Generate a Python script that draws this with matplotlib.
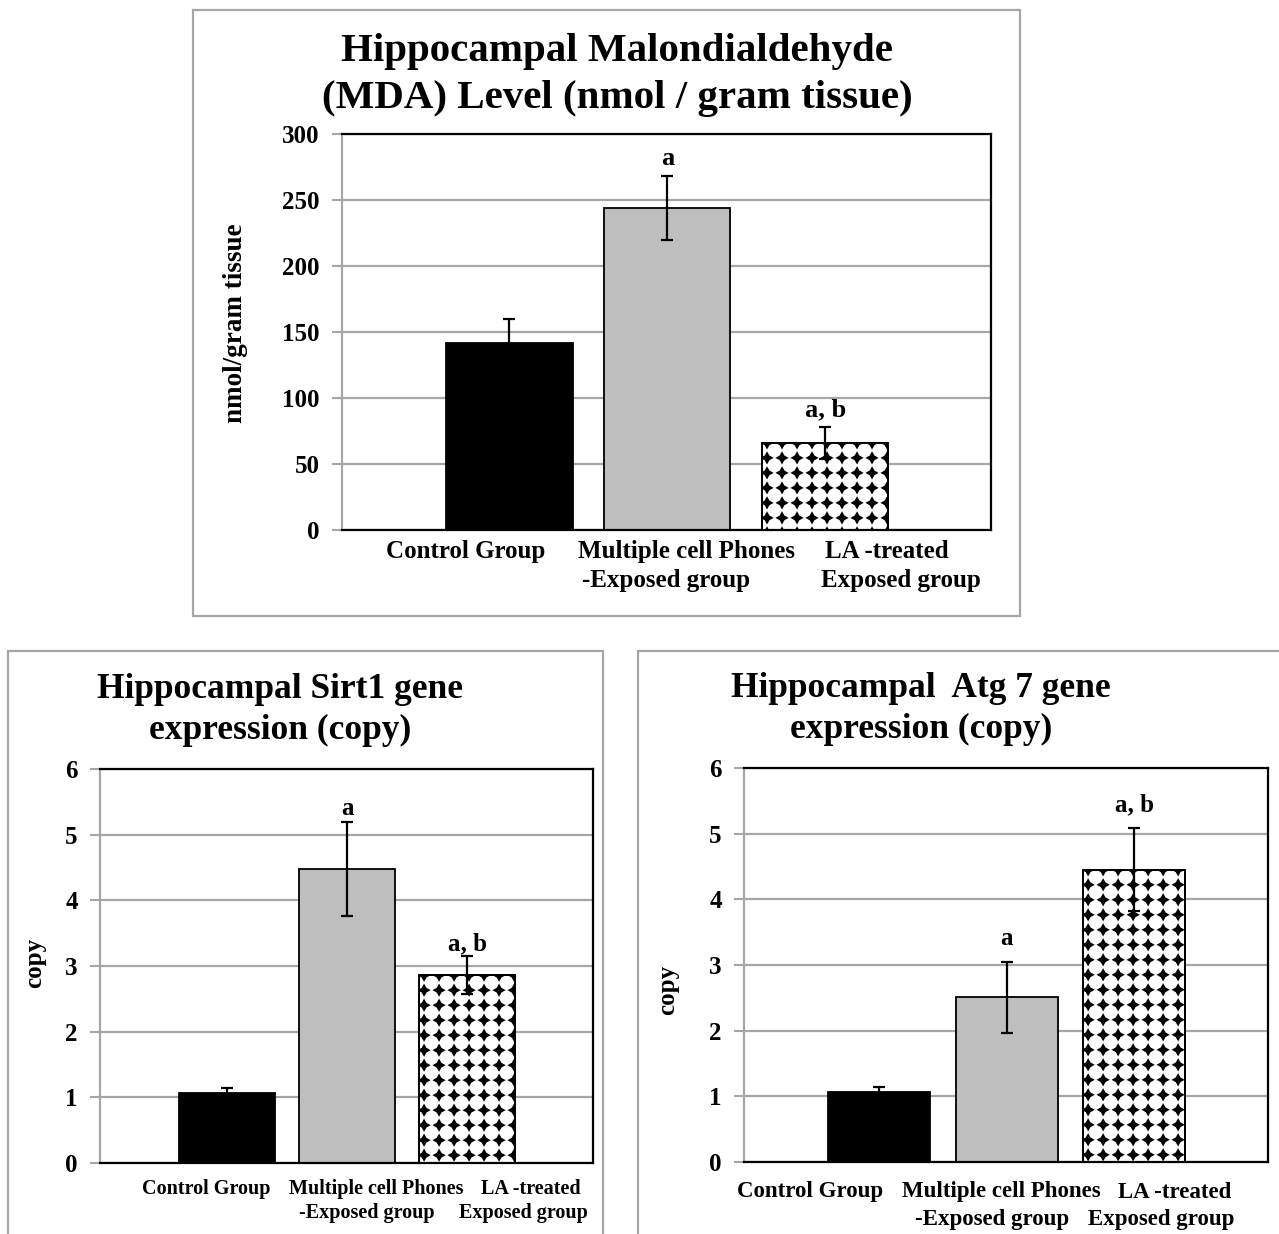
import numpy as np
import matplotlib
matplotlib.use("Agg")
import matplotlib.pyplot as plt
from matplotlib.patches import Rectangle
from matplotlib.path import Path

# ---- data -------------------------------------------------------------
group_lines = [["Control Group"],
               ["Multiple cell Phones", "-Exposed group"],
               ["LA -treated", "Exposed group"]]

mda_mean = [142, 244, 66]
mda_err = [18, 24, 12]
mda_sig = ["", "a", "a, b"]

sirt1_mean = [1.07, 4.48, 2.86]
sirt1_err = [0.07, 0.72, 0.29]
sirt1_sig = ["", "a", "a, b"]

atg7_mean = [1.06, 2.51, 4.45]
atg7_err = [0.08, 0.54, 0.63]
atg7_sig = ["", "a", "a, b"]

# ---- style ------------------------------------------------------------
plt.rcParams['font.family'] = ['Liberation Serif', 'DejaVu Serif']
plt.rcParams['font.weight'] = 'bold'

W, H = 1279, 1234
GRID = '#a6a6a6'
BAR_GRAY = '#bebebe'

# four-point star with slightly concave sides, used as the fill motif
_k = 0.36
STAR = Path([(1, 0), (_k, _k), (0, 1), (-_k, _k), (-1, 0), (-_k, -_k), (0, -1), (_k, -_k), (1, 0)],
            [Path.MOVETO] + [Path.LINETO] * 7 + [Path.CLOSEPOLY])

fig = plt.figure(figsize=(W / 100, H / 100), dpi=100)


def px_axes(left, top, right, bottom):
    return fig.add_axes([left / W, 1 - bottom / H, (right - left) / W, (bottom - top) / H])


def frame(left, top, right, bottom):
    fig.add_artist(Rectangle((left / W, 1 - bottom / H), (right - left) / W, (bottom - top) / H,
                             transform=fig.transFigure, fill=False, edgecolor=GRID,
                             lw=1.6, clip_on=False))


def fig_text(xpx, ypx, s, **kw):
    fig.text(xpx / W, 1 - ypx / H, s, ha='center', va='center', **kw)


def star_fill(ax, bar, step_px=15, star_px=13.2):
    """Cover a bar with a square grid of black four-point stars."""
    bb = bar.get_window_extent()
    xs = np.arange(bb.x0 + 5, bb.x1 + step_px, step_px)
    ys = np.arange(bb.y1, bb.y0 - step_px, -step_px)
    gx, gy = np.meshgrid(xs, ys)
    pts = ax.transData.inverted().transform(np.column_stack([gx.ravel(), gy.ravel()]))
    size_pt = star_px * 72 / fig.dpi
    sc = ax.scatter(pts[:, 0], pts[:, 1], s=size_pt ** 2, marker=STAR, c='black',
                    edgecolors='none', zorder=3)
    sc.set_clip_path(bar)


def draw_chart(ax, means, errs, sigs, ymax, ystep, tick_fs, sig_fs, sig_off):
    x = np.arange(len(means))
    ax.set_xlim(-1.06, 3.05)
    ax.set_ylim(0, ymax)
    ax.set_yticks(np.arange(0, ymax + ystep / 2, ystep))
    ax.set_xticks([])
    ax.yaxis.grid(True, color=GRID, lw=1.6)
    ax.set_axisbelow(True)
    for side in ['top', 'right', 'bottom']:
        ax.spines[side].set(color='black', lw=1.6)
    ax.spines['left'].set(color=GRID, lw=1.6)
    ax.tick_params(axis='y', length=7, width=1.5, color=GRID, pad=9, labelsize=tick_fs)

    bars = ax.bar(x, means, width=0.8, color=['black', BAR_GRAY, 'white'],
                  edgecolor='black', lw=1.3, zorder=2)
    star_fill(ax, bars[2])
    ax.bar(x[2], means[2], width=0.8, fill=False, edgecolor='black', lw=1.3, zorder=4)
    ax.errorbar(x, means, yerr=errs, fmt='none', ecolor='black', elinewidth=1.6,
                capsize=4.5, capthick=1.6, zorder=5)
    for xi, m, e, s in zip(x, means, errs, sigs):
        if s:
            ax.annotate(s, (xi, m + e), xytext=(0, sig_off), textcoords='offset points',
                        ha='center', va='baseline', fontsize=sig_fs, fontweight='bold')


# ---- top panel: MDA ---------------------------------------------------
frame(193, 10, 1020, 616)
ax1 = px_axes(342, 134, 991, 530)
draw_chart(ax1, mda_mean, mda_err, mda_sig, 300, 50, 18, 19, 8)
fig_text(617, 75, "Hippocampal Malondialdehyde\n(MDA) Level (nmol / gram tissue)",
         fontsize=29.5, fontweight='bold', linespacing=1.38)
fig_text(236, 323, "nmol/gram tissue", fontsize=19.5, rotation=90, fontweight='bold')
top_pos = [[(466, 551)], [(686, 551), (666, 580)], [(887, 551), (901, 580)]]
for lines, pos in zip(group_lines, top_pos):
    for s, (px, py) in zip(lines, pos):
        fig_text(px, py, s, fontsize=18, fontweight='bold')

# ---- bottom left: Sirt1 -----------------------------------------------
frame(8, 651, 603, 1260)
ax2 = px_axes(100, 769, 593, 1163)
draw_chart(ax2, sirt1_mean, sirt1_err, sirt1_sig, 6, 1, 18, 18, 4.5)
fig_text(280, 710, "Hippocampal Sirt1 gene\nexpression (copy)",
         fontsize=25.5, fontweight='bold', linespacing=1.35)
fig_text(35, 963, "copy", fontsize=18, rotation=90, fontweight='bold')
bl_pos = [[(206, 1189)], [(376, 1189), (367, 1213)], [(531, 1189), (523, 1213)]]
for lines, pos in zip(group_lines, bl_pos):
    for s, (px, py) in zip(lines, pos):
        fig_text(px, py, s, fontsize=14.5, fontweight='bold')

# ---- bottom right: Atg 7 ----------------------------------------------
frame(638, 651, 1290, 1260)
ax3 = px_axes(744, 768, 1268, 1162)
draw_chart(ax3, atg7_mean, atg7_err, atg7_sig, 6, 1, 18, 18, 12)
fig_text(921, 709, "Hippocampal  Atg 7 gene\nexpression (copy)",
         fontsize=25.5, fontweight='bold', linespacing=1.35)
fig_text(668, 990, "copy", fontsize=18, rotation=90, fontweight='bold')
br_pos = [[(810, 1192)], [(1001, 1192), (992, 1219)], [(1175, 1192), (1161, 1219)]]
for lines, pos in zip(group_lines, br_pos):
    for s, (px, py) in zip(lines, pos):
        fig_text(px, py, s, fontsize=16.5, fontweight='bold')

fig.savefig("out.png", dpi=100, facecolor='white')
